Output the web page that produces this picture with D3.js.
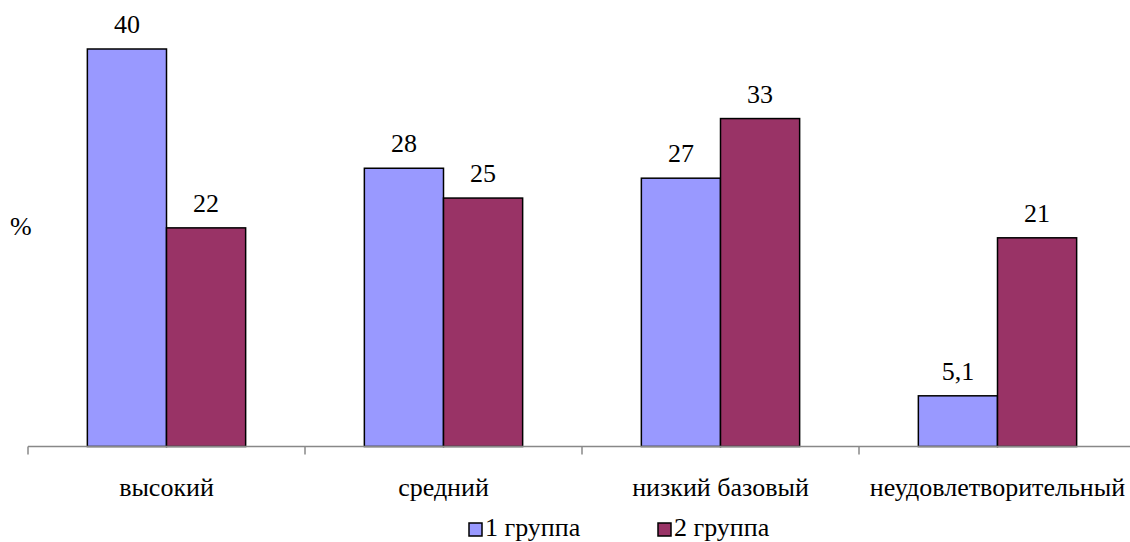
<!DOCTYPE html>
<html>
<head>
<meta charset="utf-8">
<script src="https://cdn.jsdelivr.net/npm/d3@7"></script>
<style>
  html, body { margin: 0; padding: 0; background: #fff; }
  svg { display: block; }
  .lbl { font-family: "Liberation Serif", "Times New Roman", Times, serif; font-size: 26px; fill: #000; }
</style>
</head>
<body>
<svg id="chart" width="1130" height="542"></svg>
<script>
// Уровни и доли по группам, %
const categories = ["высокий", "средний", "низкий базовый", "неудовлетворительный"];
const seriesNames = ["1 группа", "2 группа"];
const group1 = [40, 28, 27, 5.1];
const group2 = [22, 25, 33, 21];
const colors = ["#9999FF", "#993366"];

const svg = d3.select("#chart");
const baseY = 446.5;

const x = d3.scaleBand().domain(categories).range([28, 1136]).paddingInner(0).paddingOuter(0);
const inner = d3.scaleBand().domain(seriesNames).range([0, x.bandwidth()]).paddingInner(0).paddingOuter(0.75);
const y = d3.scaleLinear().domain([0, 40]).range([baseY, 49]);

const fmt = v => String(v).replace(".", ",");

// столбцы и подписи значений
[group1, group2].forEach((vals, si) => {
  const g = svg.append("g");
  g.selectAll("rect").data(categories).join("rect")
    .attr("x", c => x(c) + inner(seriesNames[si]))
    .attr("y", (c, i) => y(vals[i]))
    .attr("width", inner.bandwidth())
    .attr("height", (c, i) => baseY - y(vals[i]))
    .attr("fill", colors[si])
    .attr("stroke", "#000")
    .attr("stroke-width", 1.5);
  g.selectAll("text").data(categories).join("text")
    .attr("class", "lbl")
    .attr("x", c => x(c) + inner(seriesNames[si]) + inner.bandwidth() / 2)
    .attr("y", (c, i) => y(vals[i]) - 16)
    .attr("text-anchor", "middle")
    .text((c, i) => fmt(vals[i]));
});

// ось категорий
const axisG = svg.append("g").attr("transform", `translate(0,${baseY})`);
axisG.append("line").attr("x1", 28).attr("x2", 1136).attr("y1", 0).attr("y2", 0)
  .attr("stroke", "#888").attr("stroke-width", 1.5);
axisG.selectAll("line.tk").data(categories).join("line").attr("class", "tk")
  .attr("x1", c => x(c)).attr("x2", c => x(c)).attr("y1", 0).attr("y2", 8)
  .attr("stroke", "#888").attr("stroke-width", 1.5);
svg.append("g").selectAll("text").data(categories).join("text")
  .attr("class", "lbl")
  .attr("x", c => x(c) + x.bandwidth() / 2)
  .attr("y", 496)
  .attr("text-anchor", "middle")
  .text(c => c);

// подпись оси значений
svg.append("text").attr("class", "lbl").attr("x", 10).attr("y", 235).text("%");

// легенда
const legendX = [469, 658];
seriesNames.forEach((s, i) => {
  svg.append("rect").attr("x", legendX[i]).attr("y", 523).attr("width", 13).attr("height", 13)
    .attr("fill", colors[i]).attr("stroke", "#000").attr("stroke-width", 1.5);
  svg.append("text").attr("class", "lbl").attr("x", legendX[i] + 16).attr("y", 536).text(s);
});
</script>
</body>
</html>
